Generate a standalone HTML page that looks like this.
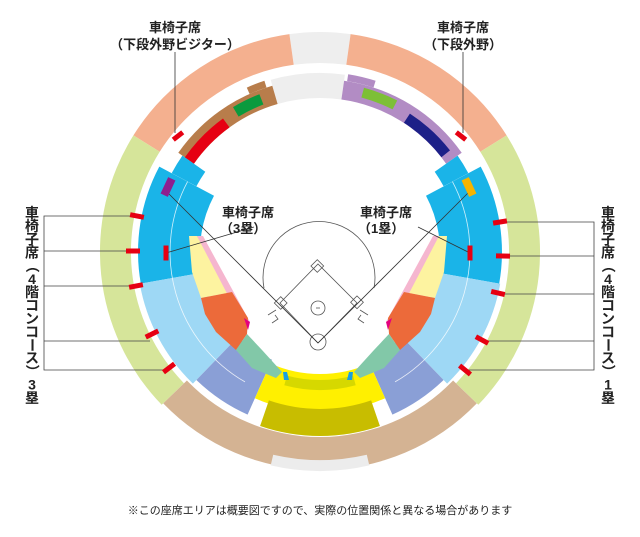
<!DOCTYPE html>
<html><head><meta charset="utf-8">
<style>
html,body{margin:0;padding:0;background:#fff;}
body{width:640px;height:537px;overflow:hidden;}
svg{display:block;}
text{font-family:"Liberation Sans","Noto Sans CJK JP",sans-serif;fill:#222;}
</style></head>
<body>
<svg id="s" width="640" height="537" viewBox="0 0 640 537" xmlns="http://www.w3.org/2000/svg">
<g id="rings"></g>
<g id="infield">
  <polygon points="189,236 197,236 232,292 201,298 192,272" fill="#fdf3a0"/>
  <polygon points="197,236 203,236 250,322 244,326" fill="#f5b6cf"/>
  <polygon points="201,298 232,292 248,318 247,334 236,350 216,332 205,314" fill="#ec6a3a"/>
  <polygon points="244,318 250,322 248,330" fill="#e4007f"/>
  <polygon points="236,350 247,334 262,350 282,372 276,378 252,368" fill="#82c8a8"/>
  <polygon points="447,236 439,236 404,292 435,298 444,272" fill="#fdf3a0"/>
  <polygon points="439,236 433,236 386,322 392,326" fill="#f5b6cf"/>
  <polygon points="435,298 404,292 388,318 389,334 400,350 420,332 431,314" fill="#ec6a3a"/>
  <polygon points="392,318 386,322 388,330" fill="#e4007f"/>
  <polygon points="400,350 389,334 374,350 354,372 360,378 384,368" fill="#82c8a8"/>
  <polygon points="283,372 287,372 289,380 284,380" fill="#1aa0e0"/>
  <polygon points="353,372 349,372 347,380 352,380" fill="#1aa0e0"/>
</g>
<g fill="none" stroke="#555" stroke-width="0.8">
  <path d="M264,288 A56,56 0 1 1 374,288"/>
  <polygon points="318,343 357,303 318,264 280,303"/>
  <circle cx="318" cy="308" r="7"/>
  <line x1="316" y1="308" x2="320" y2="308"/>
  <circle cx="318" cy="342" r="8"/>
  <rect x="313" y="262" width="9" height="9" transform="rotate(45 318 266)"/>
  <rect x="276" y="298" width="9" height="9" transform="rotate(45 280 303)"/>
  <rect x="352" y="298" width="9" height="9" transform="rotate(45 357 303)"/>
  <path d="M268,315 l8,-5 M272,323 l6,-4 l-3,-4"/>
  <path d="M368,315 l-8,-5 M364,323 l-6,-4 l3,-4"/>
  <line x1="318" y1="343" x2="168" y2="193" stroke="#333"/>
  <line x1="318" y1="343" x2="470" y2="191" stroke="#333"/>
  <line x1="254" y1="227" x2="166" y2="253" stroke="#333"/>
  <line x1="418" y1="227" x2="470" y2="253" stroke="#333"/>
  <line x1="175" y1="52" x2="175" y2="133" stroke="#333"/>
  <line x1="463" y1="52" x2="463" y2="133" stroke="#333"/>
  <path d="M137,216 H44 V370 H168 M44,251 H133 M44,286 H136 M44,341 H150" stroke="#444"/>
  <path d="M500,222 H594 V370 H465 M594,256 H503 M594,294 H498 M594,341 H484" stroke="#444"/>
</g>
<g id="marks" fill="#e60012"></g>
<text x="175" y="32" font-size="13" font-weight="bold" text-anchor="middle">車椅子席</text>
<text x="175" y="49" font-size="13" font-weight="bold" text-anchor="middle">（下段外野ビジター）</text>
<text x="463" y="32" font-size="13" font-weight="bold" text-anchor="middle">車椅子席</text>
<text x="463" y="49" font-size="13" font-weight="bold" text-anchor="middle">（下段外野）</text>
<text x="222" y="217" font-size="13" font-weight="bold">車椅子席</text>
<text x="220" y="233" font-size="13" font-weight="bold">（3塁）</text>
<text x="360" y="217" font-size="13" font-weight="bold">車椅子席</text>
<text x="358" y="233" font-size="13" font-weight="bold">（1塁）</text>
<g id="vt" font-size="14" font-weight="bold" text-anchor="middle"></g>
<text x="320" y="514" font-size="11" text-anchor="middle">※この座席エリアは概要図ですので、実際の位置関係と異なる場合があります</text>
</svg>
<script>
var NS="http://www.w3.org/2000/svg",cx=320,cy=252;
function P(r,a){a=a*Math.PI/180;return [(cx+r*Math.sin(a)).toFixed(1),(cy-r*Math.cos(a)).toFixed(1)];}
function sec(r1,r2,a1,a2,c,g){var p1=P(r2,a1),p2=P(r2,a2),p3=P(r1,a2),p4=P(r1,a1),l=(a2-a1)>180?1:0;
var e=document.createElementNS(NS,"path");
e.setAttribute("d","M"+p1+" A"+r2+","+r2+" 0 "+l+" 1 "+p2+" L"+p3+" A"+r1+","+r1+" 0 "+l+" 0 "+p4+"Z");
e.setAttribute("fill",c);document.getElementById(g||"rings").appendChild(e);}
function both(r1,r2,a1,a2,c,g){sec(r1,r2,a1,a2,c,g);sec(r1,r2,-a2,-a1,c,g);}
sec(189,220,-8,8,"#eeeeee");
both(189,220,8,58,"#f4b08f");
both(189,220,58,134,"#d6e59a");
sec(185,218,134,226,"#d4b393");
sec(208,219,167,193,"#ececec");
sec(154,179,-16,8,"#eeeeee");
sec(154,173,-55,-16,"#b87d4b");sec(173,180,-24,-18,"#b87d4b");
sec(158,169,-31,-21,"#0a9a3e");
sec(154,165,-55,-36,"#e60012");
sec(154,173,8,55,"#b28cc4");sec(173,180,9,18,"#b28cc4");
sec(160,170,15,27,"#7dbf36");
sec(154,165,33,52,"#1d2088");
both(120,182,62,100,"#1ab4e8");
both(140,168,55,62,"#1ab4e8");
both(120,183,100,136,"#9ed8f5");
both(118,178,136,156,"#8a9fd6");
sec(122,160,156,204,"#fff000");
sec(128,138,165,195,"#d6d800");
sec(157,184,161,199,"#c8bd00");
[[-150,-62],[62,150]].forEach(function(a){var p1=P(150,a[0]),p2=P(150,a[1]);var e=document.createElementNS(NS,"path");
e.setAttribute("d","M"+p1+" A150,150 0 0 1 "+p2);e.setAttribute("fill","none");e.setAttribute("stroke","#fff");e.setAttribute("stroke-width","0.8");e.setAttribute("opacity","0.8");document.getElementById("rings").appendChild(e);});
function mk(x,y,w,h,rot,c){var e=document.createElementNS(NS,"rect");e.setAttribute("x",x-w/2);e.setAttribute("y",y-h/2);e.setAttribute("width",w);e.setAttribute("height",h);e.setAttribute("transform","rotate("+rot+" "+x+" "+y+")");e.setAttribute("fill",c||"#e60012");document.getElementById("marks").appendChild(e);}
[[137,216],[133,251],[136,286],[152,334],[169,368]].forEach(function(p){var a=Math.atan2(p[1]-cy,p[0]-cx)*180/Math.PI;mk(p[0],p[1],5,14,a+90);});
[[500,222],[503,256],[498,293],[482,340],[465,370]].forEach(function(p){var a=Math.atan2(p[1]-cy,p[0]-cx)*180/Math.PI;mk(p[0],p[1],5,14,a+90);});
mk(178,136,5,12,52);mk(461,136,5,12,-52);
mk(166,253,5,15,0);mk(470,253,5,15,0);
mk(168,187,8,18,25,"#8e1e8f");mk(469,187,8,18,-25,"#f5b400");
var L=["車","椅","子","席","（","4","階","コ","ン","コ","ー","ス","）","3","塁"],R=L.slice();R[13]="1";
function vt(arr,x){arr.forEach(function(ch,i){var t=document.createElementNS(NS,"text");var y=218+i*13.2;
t.setAttribute("x",x);t.setAttribute("y",y);
if(ch=="（"||ch=="）"||ch=="ー"){t.setAttribute("transform","rotate(90 "+x+" "+(y-5)+")");}
t.textContent=ch;document.getElementById("vt").appendChild(t);});}
vt(L,32);vt(R,608);
</script>
</body></html>
